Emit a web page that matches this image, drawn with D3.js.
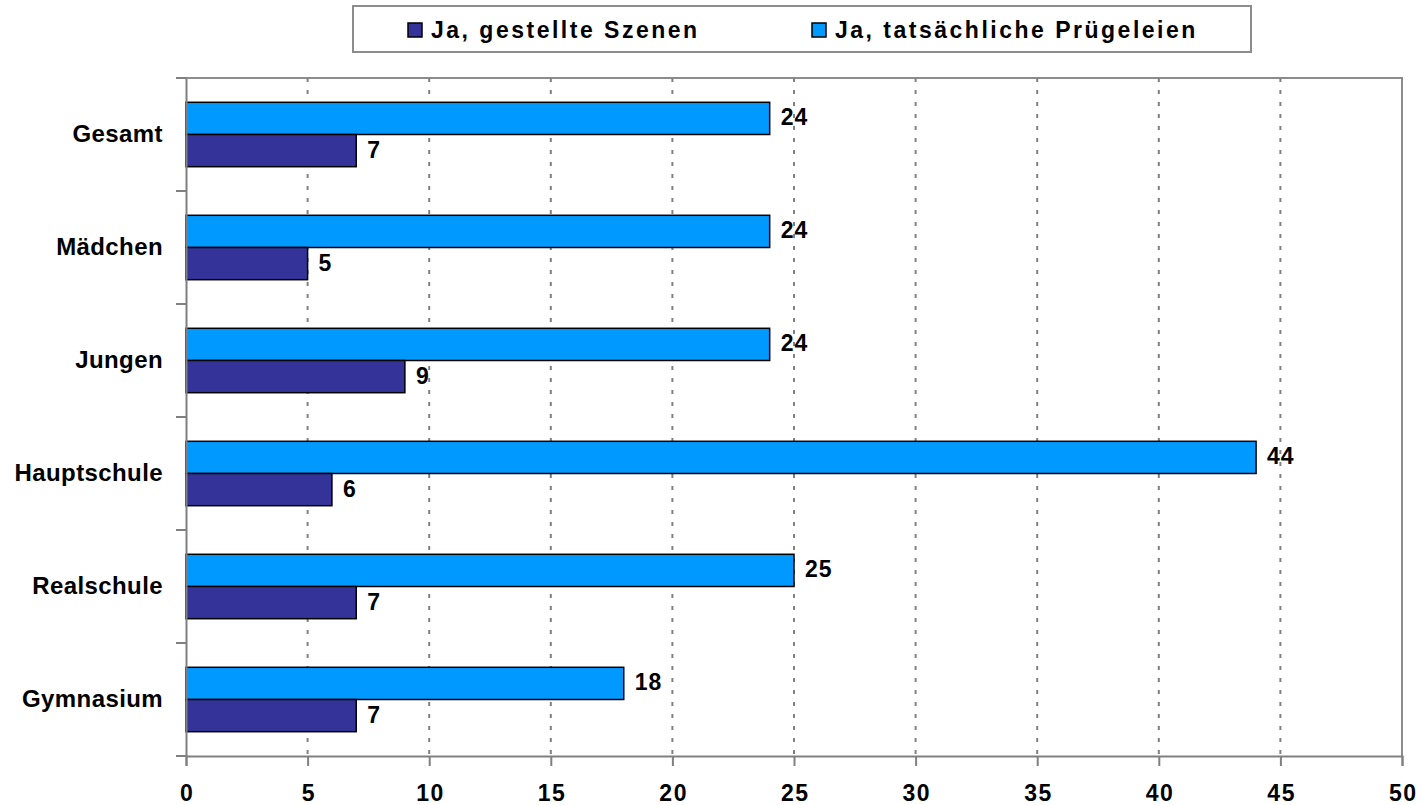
<!DOCTYPE html>
<html>
<head>
<meta charset="utf-8">
<script src="https://cdn.jsdelivr.net/npm/d3@7/dist/d3.min.js"></script>
<style>
  html, body { margin: 0; padding: 0; background: #fff; }
  svg text { font-family: "Liberation Sans", Arial, sans-serif; font-weight: bold; fill: #000; }
</style>
</head>
<body>
<svg id="chart" width="1423" height="805"></svg>
<script>
// Categories, top to bottom
const categories = ["Gesamt", "Mädchen", "Jungen", "Hauptschule", "Realschule", "Gymnasium"];
// Series values (percent)
const staged = [7, 5, 9, 6, 7, 7];          // Ja, gestellte Szenen
const real = [24, 24, 24, 44, 25, 18];      // Ja, tatsächliche Prügeleien
const seriesNames = ["Ja, gestellte Szenen", "Ja, tatsächliche Prügeleien"];
const xTicks = [0, 5, 10, 15, 20, 25, 30, 35, 40, 45, 50];

const colors = { staged: "#333399", real: "#0099FF" };

const svg = d3.select("#chart");
const plot = { left: 186, right: 1402, top: 78, bottom: 756 };

const x = d3.scaleLinear().domain([0, 50]).range([plot.left, plot.right]);
const y = d3.scaleBand().domain(categories).range([plot.top, plot.bottom]).paddingInner(0.43).paddingOuter(0.215);
const sub = d3.scaleBand().domain(["real", "staged"]).range([0, y.bandwidth()]);

// Plot area frame (top and right)
svg.append("path")
  .attr("d", `M${plot.left},${plot.top}H${plot.right}V${plot.bottom}`)
  .attr("fill", "none").attr("stroke", "#8c8c8c").attr("stroke-width", 2);

// Dotted vertical gridlines
svg.append("g").selectAll("line")
  .data(xTicks.filter(d => d > 0 && d < 50))
  .join("line")
  .attr("x1", d => x(d)).attr("x2", d => x(d))
  .attr("y1", plot.top).attr("y2", plot.bottom)
  .attr("stroke", "#808080").attr("stroke-width", 2)
  .attr("stroke-dasharray", "4,8");

// Bars with value labels
const rows = categories.map((c, i) => ({ cat: c, staged: staged[i], real: real[i] }));
const g = svg.append("g");
["real", "staged"].forEach(key => {
  g.selectAll("rect." + key)
    .data(rows)
    .join("rect")
    .attr("class", key)
    .attr("x", x(0))
    .attr("y", d => y(d.cat) + sub(key))
    .attr("width", d => x(d[key]) - x(0))
    .attr("height", sub.bandwidth())
    .attr("fill", colors[key])
    .attr("stroke", "#000").attr("stroke-width", 1.5);

  g.selectAll("text." + key)
    .data(rows)
    .join("text")
    .attr("class", key)
    .attr("x", d => x(d[key]) + 11)
    .attr("y", d => y(d.cat) + sub(key) + sub.bandwidth() / 2 - 1)
    .attr("dy", "0.35em")
    .attr("font-size", 23)
    .attr("letter-spacing", 1)
    .text(d => d[key]);
});

// Category axis
const yAxis = svg.append("g")
  .attr("transform", `translate(${plot.left},0)`)
  .call(d3.axisLeft(y).tickSize(0).tickPadding(23));
yAxis.select(".domain").attr("stroke", "#808080").attr("stroke-width", 2);
yAxis.selectAll("text")
  .attr("font-size", 24).attr("letter-spacing", 0.4)
  .attr("font-family", "Liberation Sans, Arial, sans-serif");
// Category separators
const bounds = categories.map(c => y(c) - y.step() * y.paddingInner() / 2).concat([plot.bottom]);
bounds[0] = plot.top;
yAxis.selectAll("line.sep").data(bounds).join("line")
  .attr("class", "sep")
  .attr("x1", -10).attr("x2", 0)
  .attr("y1", d => d).attr("y2", d => d)
  .attr("stroke", "#808080").attr("stroke-width", 2);

// Value axis
const xAxis = svg.append("g")
  .attr("transform", `translate(0,${plot.bottom})`)
  .call(d3.axisBottom(x).tickValues(xTicks).tickSize(10).tickPadding(19));
xAxis.select(".domain").attr("stroke", "#808080").attr("stroke-width", 2);
xAxis.selectAll(".tick line").attr("stroke", "#808080").attr("stroke-width", 2);
xAxis.selectAll("text")
  .attr("font-size", 23).attr("letter-spacing", 1.5).attr("dx", 0.75)
  .attr("font-family", "Liberation Sans, Arial, sans-serif");

// Legend
const legend = svg.append("g");
legend.append("rect")
  .attr("x", 353).attr("y", 6).attr("width", 898).attr("height", 46)
  .attr("fill", "#fff").attr("stroke", "#8c8c8c").attr("stroke-width", 2);
const legendItems = [
  { name: seriesNames[0], color: colors.staged, x: 408 },
  { name: seriesNames[1], color: colors.real, x: 812 }
];
const li = legend.selectAll("g.item").data(legendItems).join("g")
  .attr("class", "item")
  .attr("transform", d => `translate(${d.x},23)`);
li.append("rect").attr("width", 14).attr("height", 14)
  .attr("fill", d => d.color).attr("stroke", "#000").attr("stroke-width", 1.5);
li.append("text").attr("x", 23).attr("y", 7).attr("dy", "0.35em")
  .attr("font-size", 23).attr("letter-spacing", 2.5).text(d => d.name);
</script>
</body>
</html>
